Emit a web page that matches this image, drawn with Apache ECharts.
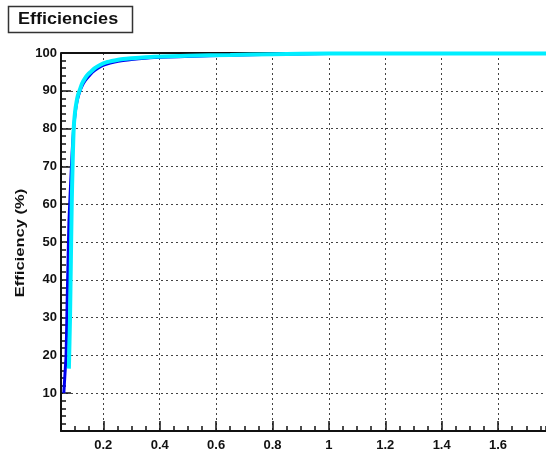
<!DOCTYPE html>
<html><head><meta charset="utf-8">
<script src="https://cdn.jsdelivr.net/npm/echarts@6/dist/echarts.min.js"></script>
<style>html,body{margin:0;padding:0;background:#fff}#c{width:546px;height:452px}</style>
</head><body><div id="c"></div>
<script>
// ---- data ----
const chartTitle = "Efficiencies";
const yTitle = "Efficiency (%)";
const xTickValues = [0.2, 0.4, 0.6, 0.8, 1.0, 1.2, 1.4, 1.6];
const xMin = 0.05, xMax = 1.77;
const cyanX = [0.078,0.082,0.085,0.088,0.091,0.095,0.100,0.105,0.110,0.118,0.125,0.135,0.145,0.155,0.17,0.19,0.21,0.24,0.27,0.30,0.38,0.50,0.65,0.80,1.00,1.30,1.77];
const cyanY = [16.5,30,45,60,70,80,84.5,87,88.8,90.5,92,93.3,94.3,95,96,96.9,97.5,98,98.4,98.6,99,99.3,99.5,99.7,99.85,99.9,99.9];
const blueX = [0.060,0.064,0.068,0.072,0.075,0.078,0.082,0.087,0.092,0.098,0.105,0.115,0.125,0.135,0.155,0.17,0.19,0.21,0.24,0.27,0.30,0.38,0.50,0.65,0.80,1.00,1.77];
const blueY = [10,15,20,35,45,55,62,70,77,82.5,86.5,89.5,91.3,92.6,94.4,95.4,96.4,97,97.6,98,98.3,98.8,99.1,99.4,99.65,99.85,99.9];
const blackX = [0.05, 0.40, 0.80, 1.77];
const blackY = [100, 100, 100, 100];

const zip = (xs, ys) => xs.map((x, i) => [x, ys[i]]);
const font = "Liberation Sans";
const chart = echarts.init(document.getElementById('c'), null, {renderer: 'canvas'});
const gridStyle = {show: true, lineStyle: {color: '#444', type: [2, 3], width: 1}};
chart.setOption({
  animation: false,
  graphic: [
    {type: 'rect', shape: {x: 8.5, y: 6.5, width: 124, height: 26}, style: {fill: '#fff', stroke: '#333', lineWidth: 1.5}},
    {type: 'text', x: 18, y: 19.5, scaleX: 1.06, style: {text: chartTitle, font: 'bold 17px "Liberation Sans"', fill: '#111', textVerticalAlign: 'middle', verticalAlign: 'middle'}},
    {type: 'text', x: 21, y: 243, rotation: Math.PI / 2, scaleX: 1.38,
     style: {text: yTitle, font: 'bold 12px "Liberation Sans"', fill: '#111', align: 'center', verticalAlign: 'middle'}}
  ],
  grid: {left: 61, right: 0, top: 53, bottom: 15},
  xAxis: [
    {type: 'value', min: xMin, max: xMax,
     axisLine: {lineStyle: {color: '#111', width: 2}},
     axisTick: {inside: true, length: 10, customValues: xTickValues, lineStyle: {color: '#111', width: 1.5}},
     axisLabel: {customValues: xTickValues, margin: 8, fontFamily: font, fontWeight: 'bold', fontSize: 13, color: '#111',
                 formatter: v => String(Math.round(v * 10) / 10)},
     splitLine: gridStyle},
    {type: 'value', min: xMin, max: xMax, interval: 0.05, position: 'bottom',
     axisLine: {show: false},
     axisTick: {inside: true, length: 5, lineStyle: {color: '#111', width: 1.5}},
     axisLabel: {show: false}, splitLine: {show: false}}
  ],
  yAxis: {type: 'value', min: 0, max: 100, interval: 10,
    axisLine: {show: true, lineStyle: {color: '#111', width: 2}},
    axisTick: {inside: true, length: 10, lineStyle: {color: '#111', width: 1.5}},
    minorTick: {show: true, splitNumber: 5, length: 5, lineStyle: {color: '#111', width: 1.5}},
    axisLabel: {showMinLabel: false, margin: 4, fontFamily: font, fontWeight: 'bold', fontSize: 13, color: '#111'},
    splitLine: gridStyle},
  series: [
    {type: 'line', data: zip(blackX, blackY), showSymbol: false, lineStyle: {color: '#111', width: 2}, z: 2},
    {type: 'line', data: zip(blueX, blueY), showSymbol: false, smooth: 0.2, lineStyle: {color: '#0000ee', width: 3}, z: 3},
    {type: 'line', data: zip(cyanX, cyanY), showSymbol: false, smooth: 0.2, lineStyle: {color: '#00eeff', width: 4}, z: 4}
  ]
});
</script></body></html>
